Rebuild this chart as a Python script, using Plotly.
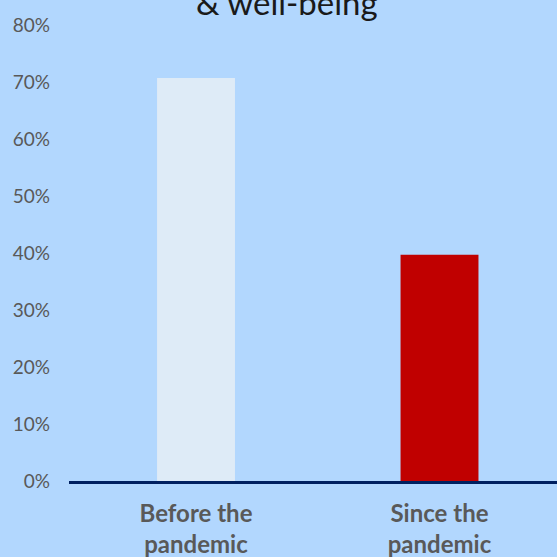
import plotly.graph_objects as go

# Share of respondents, before vs. since the pandemic
categories = ["Before the<br>pandemic", "Since the<br>pandemic"]
values = [0.707, 0.397]
bar_colors = ["#deebf7", "#c00000"]
y_ticks = [0, 0.1, 0.2, 0.3, 0.4, 0.5, 0.6, 0.7, 0.8]
y_tick_labels = ["0%", "10%", "20%", "30%", "40%", "50%", "60%", "70%", "80%"]
title_text = "& well-being"

bg = "#b2d7fe"

fig = go.Figure(
    go.Bar(
        x=[0, 1],
        y=values,
        marker=dict(color=bar_colors, line=dict(width=0)),
        width=0.32,
        hoverinfo="skip",
    )
)

fig.update_layout(
    width=557,
    height=557,
    paper_bgcolor=bg,
    plot_bgcolor=bg,
    margin=dict(l=69, r=0, t=25, b=76),
    showlegend=False,
    title=dict(
        text=title_text,
        x=0.515,
        xanchor="center",
        y=0.994,
        yanchor="middle",
        font=dict(family="Lato", size=33, color="#1a1a1a"),
    ),
)

fig.update_xaxes(
    range=[-0.5216, 1.4825],
    tickvals=[0, 1],
    ticktext=categories,
    tickfont=dict(family="Lato", size=24, color="#595959", weight="bold"),
    showline=True,
    linecolor="#002060",
    linewidth=3,
    showgrid=False,
    zeroline=False,
    ticks="",
    ticklabelstandoff=9,
)

fig.update_yaxes(
    range=[0, 0.8],
    tickvals=y_ticks,
    ticktext=y_tick_labels,
    tickfont=dict(family="Lato", size=19, color="#595959"),
    showgrid=False,
    zeroline=False,
    showline=False,
    ticks="",
    ticklabelstandoff=18,
)

fig.write_html("out.html")
